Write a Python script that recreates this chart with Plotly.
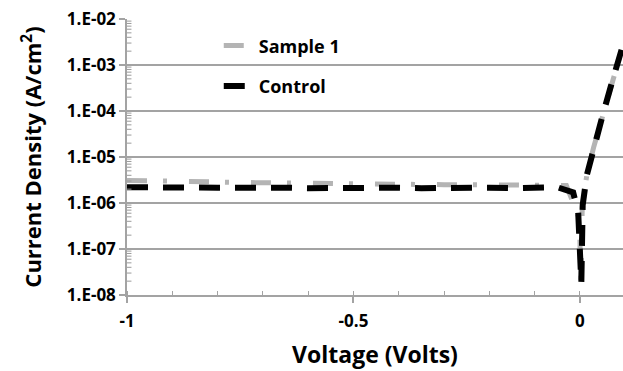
import plotly.graph_objects as go

# Voltage (V) and current density (A/cm^2)
v_flat = [-1.00, -0.95, -0.90, -0.85, -0.80, -0.75, -0.70, -0.65, -0.60, -0.55,
          -0.50, -0.45, -0.40, -0.35, -0.30, -0.25, -0.20, -0.15, -0.10, -0.05]

sample_flat = [3.1e-6, 3.0e-6, 2.95e-6, 2.9e-6, 2.85e-6, 2.8e-6, 2.75e-6, 2.7e-6, 2.65e-6, 2.6e-6,
               2.6e-6, 2.55e-6, 2.55e-6, 2.5e-6, 2.5e-6, 2.5e-6, 2.45e-6, 2.45e-6, 2.45e-6, 2.4e-6]
control_flat = [2.2e-6, 2.15e-6, 2.15e-6, 2.1e-6, 2.15e-6, 2.15e-6, 2.2e-6, 2.15e-6, 2.1e-6, 2.15e-6,
                2.15e-6, 2.2e-6, 2.15e-6, 2.1e-6, 2.15e-6, 2.2e-6, 2.15e-6, 2.1e-6, 2.15e-6, 2.2e-6]

v_sample_tail = [-0.03, -0.001, 0.002, 0.005, 0.015, 0.03, 0.05, 0.07, 0.09, 0.10]
j_sample_tail = [2.4e-6, 4.5e-7, 1.3e-8, 8e-7, 4e-6, 1.6e-5, 8e-5, 4e-4, 1.9e-3, 4e-3]

v_control_tail = [-0.015, -0.004, 0.003, 0.006, 0.015, 0.03, 0.05, 0.07, 0.09, 0.10]
j_control_tail = [1.7e-6, 6.5e-7, 1.8e-8, 9e-7, 4e-6, 1.6e-5, 8e-5, 4e-4, 1.9e-3, 4e-3]

v_sample = v_flat + v_sample_tail
j_sample = sample_flat + j_sample_tail
v_control = v_flat + v_control_tail
j_control = control_flat + j_control_tail

y_tick_exps = [-8, -7, -6, -5, -4, -3, -2]
y_tick_vals = [10.0 ** e for e in y_tick_exps]
y_tick_text = ["1.E-%02d" % (-e) for e in y_tick_exps]
y_minor_vals = [m * 10.0 ** e for e in y_tick_exps[:-1] for m in range(2, 10)]
x_tick_vals = [-1, -0.5, 0]
x_tick_text = ["-1", "-0.5", "0"]

FONT = "Open Sans"
GRID = "#a3a3a3"

fig = go.Figure()
fig.add_trace(go.Scatter(
    x=v_sample, y=j_sample, mode="lines", name="Sample 1", legendgroup="a",
    line=dict(color="#b4b4b4", width=5, dash="20px,16px,4px,22px"),
))
fig.add_trace(go.Scatter(
    x=v_control, y=j_control, mode="lines", name="Control", legendgroup="b",
    line=dict(color="black", width=6, dash="21px,15px"),
))

# legend background box
fig.add_shape(type="rect", xref="paper", yref="paper",
              x0=0.075, x1=0.546, y0=0.69, y1=0.975,
              fillcolor="white", line=dict(width=0), layer="between")

# minor ticks on the log y axis (inside)
for val in y_minor_vals:
    fig.add_shape(type="line", xref="x domain", yref="y",
                  x0=0, x1=0.009, y0=val, y1=val,
                  line=dict(color="#9a9a9a", width=1), layer="above")

fig.update_layout(
    width=623, height=371,
    margin=dict(l=127, r=0, t=19, b=76),
    paper_bgcolor="white", plot_bgcolor="white",
    font=dict(family=FONT, size=17, color="black", weight="bold"),
    showlegend=True,
    legend=dict(x=0.185, y=0.97, xanchor="left", yanchor="top",
                bgcolor="rgba(0,0,0,0)", traceorder="grouped", tracegroupgap=14,
                font=dict(family=FONT, size=18, color="black", weight="bold")),
    xaxis=dict(
        range=[-1, 0.095], showgrid=False, zeroline=False,
        showline=True, linecolor=GRID, linewidth=1.5,
        tickvals=x_tick_vals, ticktext=x_tick_text,
        ticks="outside", ticklen=6, tickcolor=GRID, tickwidth=1.5,
        ticklabelstandoff=4,
        minor=dict(dtick=0.1, ticks="inside", ticklen=4, tickcolor=GRID, tickwidth=1.2),
        tickfont=dict(family=FONT, size=17, weight="bold"),
        title=dict(text="Voltage (Volts)", font=dict(family=FONT, size=23, weight="bold"), standoff=16),
    ),
    yaxis=dict(
        type="log", range=[-8, -2], showgrid=True, gridcolor=GRID, gridwidth=1.5,
        zeroline=False, showline=True, linecolor=GRID, linewidth=1.5,
        tickvals=y_tick_vals, ticktext=y_tick_text,
        ticks="outside", ticklen=6, tickcolor=GRID, tickwidth=1.5,
        tickfont=dict(family=FONT, size=17, weight="bold"),
        title=dict(text="Current Density (A/cm<sup>2</sup>)", font=dict(family=FONT, size=22, weight="bold"), standoff=19),
    ),
)

fig.write_html("out.html")
